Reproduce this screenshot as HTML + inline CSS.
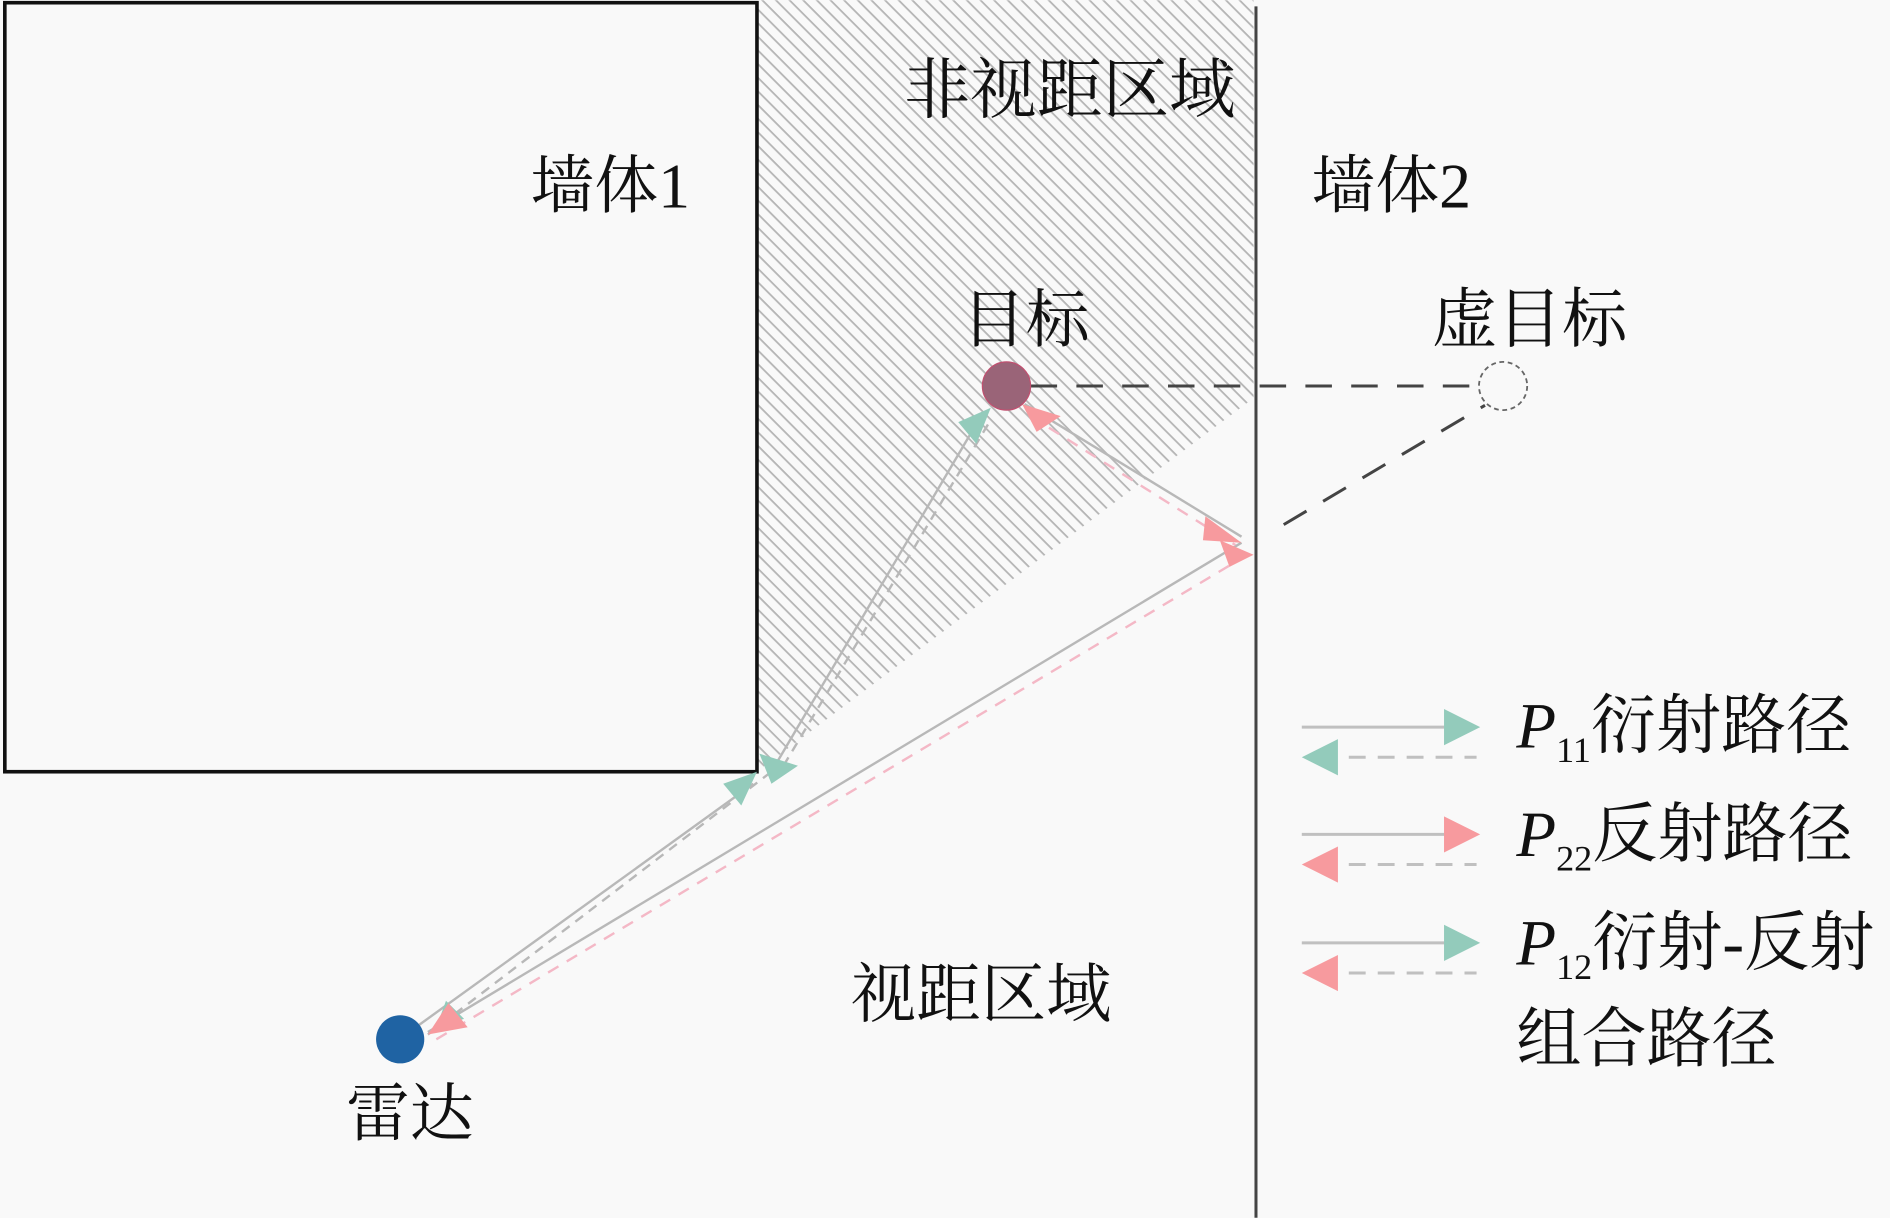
<!DOCTYPE html>
<html><head><meta charset="utf-8"><style>
html,body{margin:0;padding:0;background:#f9f9f9;}
svg{display:block;}
text{font-family:"Liberation Serif","Noto Serif CJK SC",serif;fill:#111;}
</style></head><body>
<svg width="1890" height="1218" viewBox="0 0 1568 1010" xmlns="http://www.w3.org/2000/svg">
<defs>
<pattern id="h" patternUnits="userSpaceOnUse" width="8" height="8" patternTransform="rotate(45)">
<rect width="8" height="8" fill="#f9f9f9"/>
<line x1="0" y1="0" x2="8" y2="0" stroke="#b5b5b5" stroke-width="3"/>
</pattern>
</defs>
<rect width="1568" height="1010" fill="#f9f9f9"/>
<polygon points="628,0 1040,0 1040,330 628,640" fill="url(#h)"/>
<rect x="4" y="2" width="624" height="638" fill="none" stroke="#111" stroke-width="3"/>
<line x1="1042" y1="5" x2="1042" y2="1010" stroke="#444" stroke-width="2.5"/>

<g stroke="#b8b8b8" stroke-width="2" fill="none">
<line x1="345" y1="852" x2="625" y2="650"/>
<line x1="355" y1="858" x2="640" y2="640" stroke-dasharray="8 6"/>
<line x1="640" y1="640" x2="815" y2="343"/>
<line x1="650" y1="635" x2="822" y2="348" stroke-dasharray="8 6"/>
<line x1="355" y1="856" x2="1030" y2="450"/>
<line x1="362" y1="862" x2="1035" y2="460" stroke="#f4b8c6" stroke-dasharray="10 8"/>
<line x1="850" y1="335" x2="1030" y2="445"/>
<line x1="855" y1="345" x2="1025" y2="452" stroke="#f4b8c6" stroke-dasharray="10 8"/>
</g>
<g fill="#93cbbb">
<polygon points="600,650 628,640 615,668"/>
<polygon points="630,625 662,635 640,650"/>
<polygon points="795,350 822,338 810,368"/>
<polygon points="370,830 385,845 362,852"/>
</g>
<g fill="#f79a9e">
<polygon points="848,335 880,345 860,358"/>
<polygon points="1000,428 1030,450 998,448"/>
<polygon points="1012,448 1040,460 1020,470"/>
<polygon points="372,832 388,852 355,858"/>
</g>

<line x1="855" y1="320" x2="1225" y2="320" stroke="#444" stroke-width="2.5" stroke-dasharray="22 16"/>
<line x1="1065" y1="435" x2="1232" y2="336" stroke="#444" stroke-width="2.5" stroke-dasharray="22 16"/>
<circle cx="1247" cy="320" r="20" fill="none" stroke="#666" stroke-width="1.5" stroke-dasharray="4 3"/>
<circle cx="835" cy="320" r="20" fill="#9a6478" stroke="#c05070" stroke-width="1"/>
<circle cx="332" cy="862" r="20" fill="#1f63a3"/>

<text x="440" y="172" font-size="53">墙体1</text>
<text x="750" y="93" font-size="55">非视距区域</text>
<text x="1088" y="172" font-size="53">墙体2</text>
<text x="798" y="283" font-size="53">目标</text>
<text x="1188" y="283" font-size="54">虚目标</text>
<text x="706" y="843" font-size="54">视距区域</text>
<text x="287" y="942" font-size="53">雷达</text>

<g stroke="#c0c0c0" stroke-width="2.5">
<line x1="1080" y1="603" x2="1210" y2="603"/>
<line x1="1095" y1="628" x2="1225" y2="628" stroke-dasharray="14 10"/>
<line x1="1080" y1="692" x2="1210" y2="692"/>
<line x1="1095" y1="717" x2="1225" y2="717" stroke-dasharray="14 10"/>
<line x1="1080" y1="782" x2="1210" y2="782"/>
<line x1="1095" y1="807" x2="1225" y2="807" stroke-dasharray="14 10"/>
</g>
<polygon points="1198,588 1228,603 1198,618" fill="#93cbbb"/>
<polygon points="1110,613 1080,628 1110,643" fill="#93cbbb"/>
<polygon points="1198,677 1228,692 1198,707" fill="#f79a9e"/>
<polygon points="1110,702 1080,717 1110,732" fill="#f79a9e"/>
<polygon points="1198,767 1228,782 1198,797" fill="#93cbbb"/>
<polygon points="1110,792 1080,807 1110,822" fill="#f79a9e"/>

<text x="1258" y="620" font-size="54"><tspan font-style="italic">P</tspan><tspan font-size="30" dy="12">11</tspan><tspan dy="-12">衍射路径</tspan></text>
<text x="1258" y="710" font-size="54"><tspan font-style="italic">P</tspan><tspan font-size="30" dy="12">22</tspan><tspan dy="-12">反射路径</tspan></text>
<text x="1258" y="800" font-size="54"><tspan font-style="italic">P</tspan><tspan font-size="30" dy="12">12</tspan><tspan dy="-12">衍射-反射</tspan></text>
<text x="1258" y="880" font-size="54">组合路径</text>
</svg>
</body></html>
